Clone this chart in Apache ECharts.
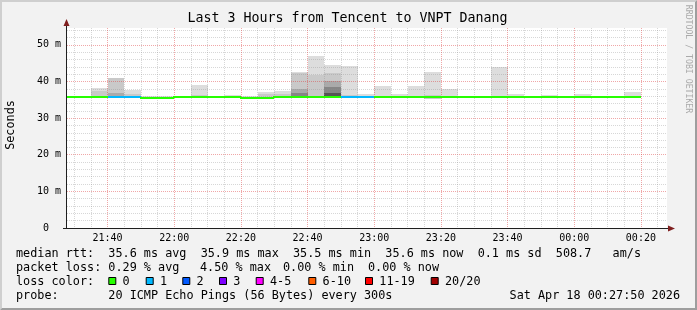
<!DOCTYPE html>
<html><head><meta charset="utf-8">
<script src="https://cdn.jsdelivr.net/npm/echarts@6/dist/echarts.min.js"></script>
<style>html,body{margin:0;padding:0;background:#f2f2f2}#c{width:697px;height:310px}</style>
</head><body><div id="c"></div>
<script>
// ---- data (milliseconds shown as "m" = milli-seconds on the axis) ----
const binEnd = ["21:30","21:35","21:40","21:45","21:50","21:55","22:00","22:05","22:10","22:15",
  "22:20","22:25","22:30","22:35","22:40","22:45","22:50","22:55","23:00","23:05",
  "23:10","23:15","23:20","23:25","23:30","23:35","23:40","23:45","23:50","23:55",
  "00:00","00:05","00:10","00:15","00:20"];
const medianRtt = [35.65,35.65,35.65,35.65,35.65,35.42,35.42,35.65,35.65,35.65,
  35.65,35.42,35.42,35.65,35.65,35.65,35.65,35.65,35.65,35.65,
  35.65,35.65,35.65,35.65,35.65,35.65,35.65,35.65,35.65,35.65,
  35.65,35.65,35.65,35.65,35.65];
const lossCount = [0,0,0,1,1,0,0,0,0,0, 0,0,0,0,0,0,0,1,1,0, 0,0,0,0,0,0,0,0,0,0, 0,0,0,0,0];
const smokeMin = [35.4,35.4,35.4,35.4,35.4,35.3,35.3,35.4,35.4,35.4,
  35.4,35.3,35.3,35.4,35.4,35.4,35.4,35.4,35.4,35.4,
  35.4,35.4,35.1,35.4,35.4,35.4,35.4,35.4,35.4,35.4,
  35.4,35.4,35.4,35.4,35.4];
// smoke layers, outermost (lightest) to innermost (darkest): top of each band
const smokeL1 = [36.1,36.1,38.1,41.0,37.8,36.0,36.0,36.1,39.1,null,
  36.2,36.0,37.2,37.5,42.6,47.0,44.5,44.2,36.6,38.8,
  36.6,38.8,42.6,37.95,null,null,43.95,36.6,null,36.3,
  null,36.6,null,null,37.1];
const smokeL2 = [null,null,37.4,40.9,36.5,null,null,null,36.3,null,
  null,null,36.6,36.6,42.2,41.8,42.2,36.3,null,null,
  null,null,36.3,null,null,null,null,null,null,null,
  null,null,null,null,null];
const smokeL3 = [null,null,null,36.8,null,null,null,null,null,null,
  null,null,null,null,37.95,null,40.2,null,null,null,
  null,null,null,null,null,null,null,null,null,null,
  null,null,null,null,null];
const smokeL4 = [null,null,null,null,null,null,null,null,null,null,
  null,null,null,null,36.8,null,38.6,null,null,null,
  null,null,null,null,null,null,null,null,null,null,
  null,null,null,null,null];
const smokeL5 = [null,null,null,null,null,null,null,null,null,null,
  null,null,null,null,null,null,36.8,null,null,null,
  null,null,null,null,null,null,null,null,null,null,
  null,null,null,null,null];
const xTickLabels = ["21:40","22:00","22:20","22:40","23:00","23:20","23:40","00:00","00:20"];
const yTickValues = [0,10,20,30,40,50];
const lossLabels = ["0","1","2","3","4-5","6-10","11-19","20/20"];
const lossColors = ["#26ff00","#00b8ff","#0059ff","#7e00ff","#ff00ff","#ff5e00","#ff0000","#a10000"];
const titleText = "Last 3 Hours from Tencent to VNPT Danang";
const rttLine = "median rtt:  35.6 ms avg  35.9 ms max  35.5 ms min  35.6 ms now  0.1 ms sd  508.7   am/s";
const lossStats = ["packet loss: 0.29 % avg","4.50 % max","0.00 % min","0.00 % now"];
const probeText = ["probe:       20 ICMP Echo Pings (56 Bytes) every 300s","Sat Apr 18 00:27:50 2026"];

// ---- helpers ----
function toMin(s){const p=s.split(':').map(Number);const h=p[0]<12?p[0]+24:p[0];return (h-21)*60+p[1];}
const STEP = 5;
const T_START = 27 + 50/60, T_END = T_START + 180;
const majorX = xTickLabels.map(toMin);
const labelOf = {}; xTickLabels.forEach((l,i)=>{labelOf[majorX[i]]=l;});
const minorX = []; for (let t = 30; t <= 205; t += 5) if (majorX.indexOf(t) < 0) minorX.push(t);
const Y_MAX = 54.6;
const minorY = []; for (let v = 2; v <= 54; v += 2) if (v % 10) minorY.push(v);

const layerColors = ["#dddddd","#c9c9c9","#aaaaaa","#868686","#555555"];
const layers = [smokeL1,smokeL2,smokeL3,smokeL4,smokeL5];
const smokeData = [];
layers.forEach((arr,k)=>arr.forEach((v,i)=>{
  if (v == null) return;
  const e = toMin(binEnd[i]);
  smokeData.push([e-STEP, e, smokeMin[i], v, k]);
}));
const medData = binEnd.map((b,i)=>{const e=toMin(b);return [e-STEP,e,medianRtt[i],i>0?medianRtt[i-1]:medianRtt[i],lossCount[i]];});
function lossBucket(n){return n===0?0:n===1?1:n===2?2:n===3?3:n<=5?4:n<=10?5:n<=19?6:7;}

const FONT = "'DejaVu Sans Mono', monospace";
const LF = '11.8px ' + FONT;
const chart = echarts.init(document.getElementById('c'), null, {renderer:'canvas'});

const gridMinor = {color:'rgba(143,143,143,0.36)', width:1, type:[1,1]};
const gridMajor = {color:'rgba(222,60,60,0.45)', width:1, type:[1,1]};

const graphics = [];
// 3D frame
graphics.push({type:'polygon', shape:{points:[[0,0],[697,0],[695,2],[2,2],[2,308],[0,310]]}, style:{fill:'#cfcfcf'}, silent:true});
graphics.push({type:'polygon', shape:{points:[[697,0],[697,310],[0,310],[2,308],[695,308],[695,2]]}, style:{fill:'#9e9e9e'}, silent:true});
// axes lines and arrows
graphics.push({type:'line', shape:{x1:66.5,y1:228,x2:66.5,y2:25}, style:{stroke:'#1f1f1f', lineWidth:1}, z:20});
graphics.push({type:'line', shape:{x1:63,y1:228.5,x2:669,y2:228.5}, style:{stroke:'#1f1f1f', lineWidth:1}, z:20});
graphics.push({type:'polygon', shape:{points:[[66.5,19],[63.5,26],[69.5,26]]}, style:{fill:'#7f1f1f'}, z:21});
graphics.push({type:'polygon', shape:{points:[[675,228.5],[668,225.5],[668,231.5]]}, style:{fill:'#7f1f1f'}, z:21});
// title
graphics.push({type:'text', x:347.5, y:19, style:{text:titleText, font:'13.3px '+FONT, fill:'#000', align:'center', verticalAlign:'middle'}});
// y axis name
graphics.push({type:'text', x:11, y:125, rotation:Math.PI/2, style:{text:'Seconds', font:LF, fill:'#000', align:'center', verticalAlign:'middle'}});
// watermark
graphics.push({type:'text', x:688, y:59, rotation:-Math.PI/2, style:{text:'RRDTOOL / TOBI OETIKER', font:'8.2px '+FONT, fill:'#aaaaaa', align:'center', verticalAlign:'middle'}});
// legend rows
const L1Y=254, L2Y=268, L3Y=282, L4Y=296;
graphics.push({type:'text', x:16, y:L1Y, style:{text:rttLine, font:LF, fill:'#000', verticalAlign:'middle'}});
const lossX = [16,200,283,368];
lossStats.forEach((t,i)=>graphics.push({type:'text', x:lossX[i], y:L2Y, style:{text:t, font:LF, fill:'#000', verticalAlign:'middle'}}));
graphics.push({type:'text', x:16, y:L3Y, style:{text:'loss color:', font:LF, fill:'#000', verticalAlign:'middle'}});
const swX = [108.3,145.7,182.3,219,255.7,308.3,365,430.7];
lossLabels.forEach((t,i)=>{
  graphics.push({type:'rect', shape:{x:swX[i]+0.5, y:L3Y-4.5, width:7, height:7}, style:{fill:lossColors[i], stroke:'#000', lineWidth:1}});
  graphics.push({type:'text', x:swX[i]+14.3, y:L3Y, style:{text:t, font:LF, fill:'#000', verticalAlign:'middle'}});
});
graphics.push({type:'text', x:16, y:L4Y, style:{text:probeText[0], font:LF, fill:'#000', verticalAlign:'middle'}});
graphics.push({type:'text', x:680, y:L4Y, style:{text:probeText[1], font:LF, fill:'#000', align:'right', verticalAlign:'middle'}});

const hidden = {show:false};
chart.setOption({
  animation:false,
  backgroundColor:'#f2f2f2',
  grid:{left:67, right:30, top:28, bottom:82, show:true, backgroundColor:'#ffffff', borderWidth:0},
  xAxis:[
    {type:'value', position:'bottom', min:T_START, max:T_END, z:3, axisLine:hidden, axisLabel:{show:false},
     axisTick:{show:false, customValues:minorX}, splitLine:{show:true, lineStyle:gridMinor}},
    {type:'value', position:'bottom', offset:0, min:T_START, max:T_END, z:3, axisLine:hidden,
     axisTick:{show:false, customValues:majorX},
     axisLabel:{show:true, customValues:majorX, margin:5, color:'#000', fontFamily:FONT, fontSize:10,
       formatter:v=>labelOf[Math.round(v)]||''},
     splitLine:{show:true, lineStyle:gridMajor}}
  ],
  yAxis:[
    {type:'value', position:'left', min:0, max:Y_MAX, z:3, axisLine:hidden, axisLabel:{show:false},
     axisTick:{show:false, customValues:minorY}, splitLine:{show:true, lineStyle:gridMinor}},
    {type:'value', position:'left', offset:0, min:0, max:Y_MAX, z:3, axisLine:hidden,
     axisTick:{show:false, customValues:yTickValues},
     axisLabel:{show:true, customValues:yTickValues, margin:6, color:'#000', fontFamily:FONT, fontSize:10,
       formatter:v=>v===0?'0  ':(v+' m')},
     splitLine:{show:true, lineStyle:gridMajor}}
  ],
  graphic:{elements:graphics},
  series:[
    {type:'custom', z:1, xAxisIndex:0, yAxisIndex:0, data:smokeData, silent:true,
     renderItem:(params, api)=>{
       const cs = params.coordSys;
       const p0 = api.coord([api.value(0), api.value(3)]);
       const p1 = api.coord([api.value(1), api.value(2)]);
       let x0 = Math.round(p0[0]), x1 = Math.round(p1[0]);
       x0 = Math.max(x0, cs.x); x1 = Math.min(x1, cs.x+cs.width);
       const y0 = Math.round(p0[1]), y1 = Math.round(p1[1]);
       if (x1 <= x0) return null;
       return {type:'rect', shape:{x:x0, y:y0, width:x1-x0, height:y1-y0}, style:{fill:layerColors[api.value(4)]}};
     }},
    {type:'custom', z:5, xAxisIndex:0, yAxisIndex:0, data:medData, silent:true,
     renderItem:(params, api)=>{
       const cs = params.coordSys;
       const a = api.coord([api.value(0), api.value(2)]);
       const b = api.coord([api.value(1), api.value(2)]);
       const pv = api.coord([api.value(0), api.value(3)]);
       let x0 = Math.max(Math.round(a[0]), cs.x), x1 = Math.round(b[0]);
       const y = Math.round(a[1]) , yp = Math.round(pv[1]);
       const pts = (yp !== y && x0 > cs.x) ? [[x0,yp],[x0,y],[x1,y]] : [[x0,y],[x1,y]];
       return {type:'polyline', shape:{points:pts}, style:{stroke:lossColors[lossBucket(api.value(4))], lineWidth:2, fill:null}};
     }}
  ]
});
</script></body></html>
